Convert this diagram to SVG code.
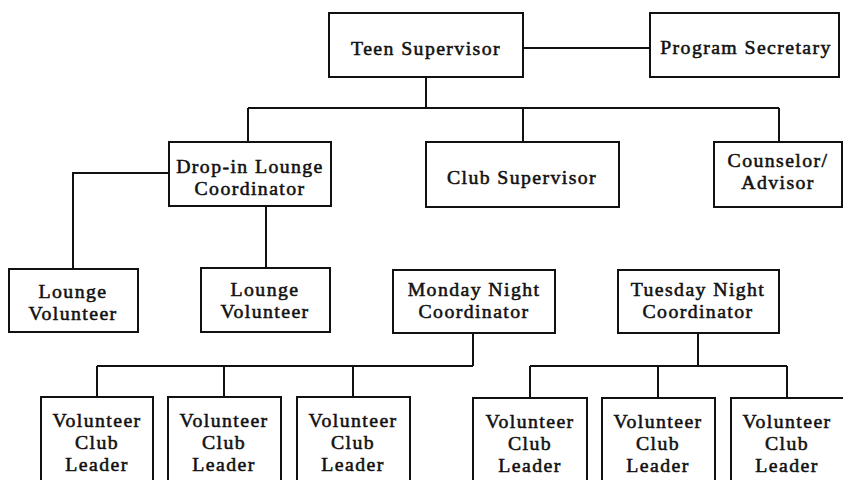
<svg xmlns="http://www.w3.org/2000/svg" width="843" height="480" viewBox="0 0 843 480">
<style>
.box{fill:#fff;stroke:#111;stroke-width:2}
.ln{fill:none;stroke:#111;stroke-width:2}
text{font-family:"Liberation Serif","Times New Roman",serif;font-size:19.8px;letter-spacing:1.4px;fill:#111;stroke:#111;stroke-width:0.55;text-anchor:middle}
</style>
<rect width="843" height="480" fill="#fff"/>
<g id="connectors">
<path class="ln" d="M523 48H650"/>
<path class="ln" d="M426 77V108M248 108H779M248 108V142M523 108V142M779 108V142"/>
<path class="ln" d="M169 173H73V269M266 206V268"/>
<path class="ln" d="M473 333V366M97 366H473M97 366V397M224 366V397M353 366V397"/>
<path class="ln" d="M698 333V366M530 366H787M530 366V398M658 366V398M787 366V398"/>
</g>
<g id="teen-supervisor"><rect class="box" x="329" y="13" width="194" height="64"/><text x="426" y="55">Teen Supervisor</text></g>
<g id="program-secretary"><rect class="box" x="650" y="13" width="189" height="64"/><text x="746" y="54">Program Secretary</text></g>
<g id="drop-in-lounge-coordinator"><rect class="box" x="169" y="142" width="162" height="64"/><text x="250" y="173">Drop-in Lounge</text><text x="250" y="195">Coordinator</text></g>
<g id="club-supervisor"><rect class="box" x="426" y="142" width="193" height="65"/><text x="522" y="184">Club Supervisor</text></g>
<g id="counselor-advisor"><rect class="box" x="714" y="142" width="128" height="65"/><text x="778" y="167">Counselor/</text><text x="778" y="189">Advisor</text></g>
<g id="lounge-volunteer-1"><rect class="box" x="9" y="269" width="129" height="63"/><text x="73" y="298">Lounge</text><text x="73" y="320">Volunteer</text></g>
<g id="lounge-volunteer-2"><rect class="box" x="201" y="268" width="129" height="64"/><text x="265" y="296">Lounge</text><text x="265" y="318">Volunteer</text></g>
<g id="monday-night-coordinator"><rect class="box" x="393" y="270" width="162" height="63"/><text x="474" y="296">Monday Night</text><text x="474" y="318">Coordinator</text></g>
<g id="tuesday-night-coordinator"><rect class="box" x="618" y="270" width="161" height="63"/><text x="698" y="296">Tuesday Night</text><text x="698" y="318">Coordinator</text></g>
<g id="leader-1"><rect class="box" x="41" y="397" width="112" height="95"/><text x="97" y="427">Volunteer</text><text x="97" y="449">Club</text><text x="97" y="471">Leader</text></g>
<g id="leader-2"><rect class="box" x="168" y="397" width="113" height="95"/><text x="224" y="427">Volunteer</text><text x="224" y="449">Club</text><text x="224" y="471">Leader</text></g>
<g id="leader-3"><rect class="box" x="297" y="397" width="113" height="95"/><text x="353" y="427">Volunteer</text><text x="353" y="449">Club</text><text x="353" y="471">Leader</text></g>
<g id="leader-4"><rect class="box" x="473" y="398" width="114" height="95"/><text x="530" y="428">Volunteer</text><text x="530" y="450">Club</text><text x="530" y="472">Leader</text></g>
<g id="leader-5"><rect class="box" x="602" y="398" width="113" height="95"/><text x="658" y="428">Volunteer</text><text x="658" y="450">Club</text><text x="658" y="472">Leader</text></g>
<g id="leader-6"><rect class="box" x="731" y="398" width="114" height="95"/><text x="787" y="428">Volunteer</text><text x="787" y="450">Club</text><text x="787" y="472">Leader</text></g>
</svg>
